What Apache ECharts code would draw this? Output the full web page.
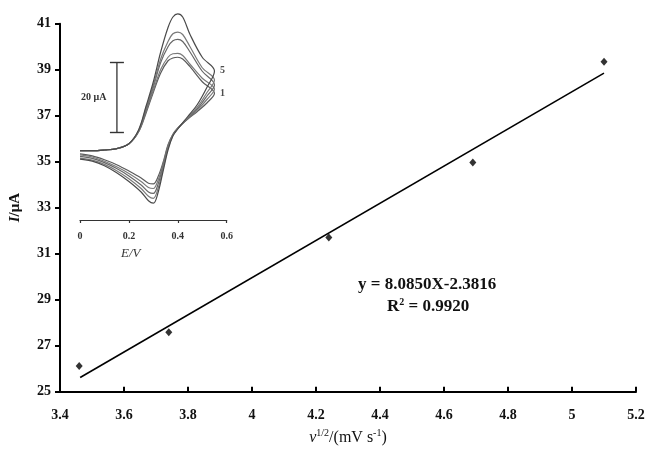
<!DOCTYPE html>
<html>
<head>
<meta charset="utf-8">
<script src="https://cdn.jsdelivr.net/npm/echarts@6/dist/echarts.min.js"></script>
<style>
html,body{margin:0;padding:0;background:#fff;}
#chart{width:647px;height:450px;}
</style>
</head>
<body>
<div id="chart"></div>
<script>
// ---- main plot data ----
const sqrtScanRate = [3.46, 3.74, 4.24, 4.69, 5.10];
const peakCurrent  = [26.12, 27.58, 31.70, 34.97, 39.35];
const trendX = [3.463, 5.10];
const trendY = [25.62, 38.85];
const xTicks = [3.4, 3.6, 3.8, 4, 4.2, 4.4, 4.6, 4.8, 5, 5.2];
const yTicks = [25, 27, 29, 31, 33, 35, 37, 39, 41];

// ---- inset cyclic voltammograms (E / V, I / uA) ----
const cvE  = [0, 0.05, 0.10, 0.15, 0.20, 0.24, 0.27, 0.30, 0.33, 0.36, 0.38, 0.40, 0.42, 0.45, 0.50, 0.55,
              0.52, 0.48, 0.44, 0.40, 0.38, 0.36, 0.34, 0.32, 0.30, 0.28, 0.25, 0.20, 0.15, 0.10, 0.05, 0.00];
const cv1I = [-0.2,-0.2,0.0,0.4,1.8,5.2,10.5,16.5,22,25.5,26.3,26.5,26,23.8,19.5,16.2,
              13.5,11,8.8,6.3,4.5,1.5,-3.5,-7.5,-9.7,-9.5,-8,-6,-4.2,-2.8,-1.7,-1.1];
const cv2I = [-0.2,-0.2,0.0,0.4,1.8,5.3,11,17,23,26.5,27.5,27.6,27,24.5,20.5,17.4,
              14.5,11.4,8.9,6.2,4.4,1.2,-4.0,-8.5,-11.0,-10.7,-9,-6.7,-4.8,-3.2,-2.0,-1.4];
const cv3I = [-0.2,-0.2,0.0,0.4,1.8,5.5,11.5,18,25,29.5,31.2,31.6,31,28,22.5,18.6,
              15.5,11.8,9.0,6.2,4.3,0.8,-4.6,-9.6,-12.4,-12,-10,-7.4,-5.3,-3.6,-2.4,-1.8];
const cv4I = [-0.2,-0.2,0.0,0.4,1.8,5.6,12,18.5,26,31,33.2,33.7,33,29.5,23.5,20.0,
              16.5,12.3,9.2,6.1,4.2,0.5,-5.2,-10.8,-13.8,-13.2,-11,-8.2,-5.9,-4.1,-2.9,-2.3];
const cv5I = [-0.2,-0.2,0.0,0.4,1.8,5.8,12.5,19.5,28,35,38,38.9,38,33,26.5,22.6,
              18,13,9.5,6,4,0,-6,-12,-15.2,-14.5,-12,-9,-6.5,-4.5,-3.2,-2.6];
const cvEndLabels = ['5', '1'];
const insetTicks = [0, 0.2, 0.4, 0.6];
const scaleBarE = [0.151, 0.151];
const scaleBarI = [5, 25];

const serif = '"Liberation Serif","DejaVu Serif",serif';
const chart = echarts.init(document.getElementById('chart'), null, {renderer: 'canvas'});

function cvSeries(arr, name, color) {
  return {
    type: 'line', name: name, xAxisIndex: 1, yAxisIndex: 1,
    data: cvE.map((e, i) => [e, arr[i]]),
    showSymbol: false, symbol: 'none', smooth: 0.35,
    lineStyle: {color: color, width: 1.2}, silent: true, z: 3
  };
}

const endIdx = 15;
const option = {
  animation: false,
  backgroundColor: '#fff',
  grid: [
    {left: 60, right: 11, top: 23.7, bottom: 58.3, containLabel: false, outerBoundsMode: 'none'},
    {left: 80, width: 146.7, top: 10, height: 210, containLabel: false, outerBoundsMode: 'none'}
  ],
  xAxis: [
    {
      type: 'value', gridIndex: 0, min: xTicks[0], max: xTicks[xTicks.length - 1], interval: 0.2,
      axisLine: {show: true, lineStyle: {color: '#000', width: 2}},
      axisTick: {show: true, length: 5, inside: true, lineStyle: {color: '#000', width: 2}},
      splitLine: {show: false},
      axisLabel: {fontFamily: serif, fontWeight: 'bold', fontSize: 14, color: '#111', margin: 17,
        formatter: v => String(parseFloat(v.toFixed(1)))},
      name: '{i|ν}{sup|1/2}{n|/(mV s}{sup|-1}{n|)}',
      nameLocation: 'middle', nameGap: 37,
      nameTextStyle: {
        fontFamily: serif, fontSize: 16, color: '#111',
        rich: {
          i: {fontFamily: serif, fontStyle: 'italic', fontSize: 16, color: '#111', lineHeight: 18},
          n: {fontFamily: serif, fontSize: 16, color: '#111', lineHeight: 18},
          sup: {fontFamily: serif, fontSize: 10, color: '#111', verticalAlign: 'top', lineHeight: 18}
        }
      }
    },
    {
      type: 'value', gridIndex: 1, min: insetTicks[0], max: insetTicks[insetTicks.length - 1], interval: 0.2,
      axisLine: {show: true, onZero: false, lineStyle: {color: '#333', width: 1.2}},
      axisTick: {show: true, length: 3, lineStyle: {color: '#333', width: 1.2}},
      splitLine: {show: false},
      axisLabel: {fontFamily: serif, fontWeight: 'bold', fontSize: 10, color: '#333', margin: 11,
        formatter: v => String(parseFloat(v.toFixed(1)))}
    }
  ],
  yAxis: [
    {
      type: 'value', gridIndex: 0, min: yTicks[0], max: yTicks[yTicks.length - 1], interval: 2,
      axisLine: {show: true, lineStyle: {color: '#000', width: 2}},
      axisTick: {show: true, length: 5, lineStyle: {color: '#000', width: 2}},
      splitLine: {show: false},
      axisLabel: {fontFamily: serif, fontWeight: 'bold', fontSize: 14, color: '#111', margin: 9},
      name: '{i|I}{n|/μA}',
      nameLocation: 'middle', nameGap: 37, nameRotate: 90,
      nameTextStyle: {
        fontFamily: serif, fontSize: 15, color: '#111',
        rich: {
          i: {fontFamily: serif, fontStyle: 'italic', fontWeight: 'bold', fontSize: 15, color: '#111'},
          n: {fontFamily: serif, fontWeight: 'bold', fontSize: 15, color: '#111'}
        }
      }
    },
    {
      type: 'value', gridIndex: 1, min: -20, max: 40, show: false,
      splitLine: {show: false}
    }
  ],
  series: [
    {
      type: 'line', name: 'fit', xAxisIndex: 0, yAxisIndex: 0,
      data: trendX.map((x, i) => [x, trendY[i]]),
      showSymbol: false, symbol: 'none', lineStyle: {color: '#000', width: 1.6}, z: 2
    },
    {
      type: 'scatter', name: 'data', xAxisIndex: 0, yAxisIndex: 0,
      data: sqrtScanRate.map((x, i) => [x, peakCurrent[i]]),
      symbol: 'diamond', symbolSize: [7, 8], itemStyle: {color: '#000'}, z: 4
    },
    cvSeries(cv1I, 'cv1', '#5a5a5a'),
    cvSeries(cv2I, 'cv2', '#7a7a7a'),
    cvSeries(cv3I, 'cv3', '#666666'),
    cvSeries(cv4I, 'cv4', '#7a7a7a'),
    cvSeries(cv5I, 'cv5', '#4a4a4a'),
    {
      type: 'scatter', name: 'cvLabels', xAxisIndex: 1, yAxisIndex: 1,
      data: [[cvE[endIdx], cv5I[endIdx]], [cvE[endIdx], cv1I[endIdx]]],
      symbolSize: 1, itemStyle: {color: 'rgba(0,0,0,0)'}, silent: true,
      label: {show: true, position: 'right', distance: 5,
        formatter: p => cvEndLabels[p.dataIndex],
        fontFamily: serif, fontWeight: 'bold', fontSize: 10, color: '#222'},
      z: 5
    },
    {
      type: 'line', name: 'scalebar', xAxisIndex: 1, yAxisIndex: 1,
      data: scaleBarE.map((e, i) => [e, scaleBarI[i]]),
      symbol: 'rect', symbolSize: [14, 1.4], showSymbol: true,
      itemStyle: {color: '#333'}, lineStyle: {color: '#333', width: 1.3}, z: 3
    }
  ],
  graphic: [
    {type: 'text', left: 81, top: 92, style: {text: '20 μA', font: 'bold 10px ' + serif, fill: '#333'}},
    {type: 'text', left: 121, top: 247, style: {text: 'E/V', font: 'italic 13px ' + serif, fill: '#333'}},
    {type: 'text', left: 358, top: 276, style: {text: 'y = 8.0850X-2.3816', font: 'bold 17px ' + serif, fill: '#111'}},
    {type: 'text', left: 387, top: 297, style: {
      text: '{n|R}{sup|2}{n| = 0.9920}',
      rich: {
        n: {fontFamily: serif, fontWeight: 'bold', fontSize: 17, fill: '#111', lineHeight: 19},
        sup: {fontFamily: serif, fontWeight: 'bold', fontSize: 10, fill: '#111', verticalAlign: 'top', lineHeight: 19}
      }
    }}
  ]
};
chart.setOption(option);
</script>
</body>
</html>
